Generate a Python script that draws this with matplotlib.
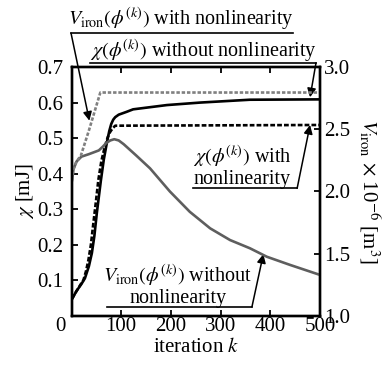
import numpy as np
import matplotlib
matplotlib.use("Agg")
import matplotlib.pyplot as plt
import matplotlib.transforms as mtransforms

plt.rcParams['font.family'] = ['Liberation Serif', 'DejaVu Serif']
plt.rcParams['mathtext.fontset'] = 'stix'
plt.rcParams['font.size'] = 14.5

# chi without nonlinearity (left axis, black solid)
k_chi_lin = [1, 10, 20, 27, 35, 41, 46, 51, 55, 59, 65, 71, 76, 80, 84, 88, 95, 111, 124, 158, 192, 259, 359, 500]
chi_lin = [0.048, 0.07, 0.09, 0.106, 0.14, 0.177, 0.225, 0.29, 0.335, 0.38, 0.44, 0.486, 0.52, 0.54,
           0.552, 0.559, 0.566, 0.574, 0.581, 0.587, 0.593, 0.600, 0.608, 0.609]

# chi with nonlinearity (left axis, black dashed)
k_chi_nl = [1, 10, 18, 24, 29, 34, 39, 44, 49, 54, 60, 67, 73, 78, 83, 88, 500]
chi_nl = [0.048, 0.07, 0.088, 0.101, 0.125, 0.157, 0.2, 0.261, 0.32, 0.382, 0.435, 0.476, 0.503,
          0.518, 0.528, 0.535, 0.537]

# V_iron without nonlinearity (right axis, gray solid)
k_v_lin = [1, 4, 10, 20, 35, 55, 63, 70, 78, 86, 95, 105, 130, 158, 198, 238, 279, 319, 359, 393, 440, 500]
v_lin = [2.09, 2.18, 2.24, 2.28, 2.30, 2.33, 2.36, 2.39, 2.41, 2.42, 2.41, 2.38, 2.29, 2.186, 2.0,
         1.837, 1.704, 1.61, 1.544, 1.476, 1.41, 1.33]

# V_iron with nonlinearity (right axis, gray dashed)
k_v_nl = [1, 4, 10, 19, 35, 58, 500]
v_nl = [2.09, 2.18, 2.24, 2.29, 2.49, 2.795, 2.795]

fig = plt.figure(figsize=(3.84, 3.67), dpi=100)
ax = fig.add_axes([71.5 / 384, 51 / 367, 248.5 / 384, 249 / 367])
ax2 = ax.twinx()

ax.plot(k_chi_lin, chi_lin, color='black', lw=1.9)
ax.plot(k_chi_nl, chi_nl, color='black', lw=1.9, dashes=(1.8, 0.8))
ax2.plot(k_v_lin, v_lin, color='#5e5e5e', lw=1.9)
ax2.plot(k_v_nl, v_nl, color='#808080', lw=1.9, dashes=(1.3, 0.7))

ax.set_xlim(0, 500)
ax.set_ylim(0, 0.7)
ax2.set_ylim(1.0, 3.0)
ax.set_xticks([0, 100, 200, 300, 400, 500])
ax.set_yticks([0.1, 0.2, 0.3, 0.4, 0.5, 0.6, 0.7])
ax.set_yticklabels(['0.1', '0.2', '0.3', '0.4', '0.5', '0.6', '0.7'])
ax2.set_yticks([1.0, 1.5, 2.0, 2.5, 3.0])
ax2.set_yticklabels(['1.0', '1.5', '2.0', '2.5', '3.0'])

for a in (ax, ax2):
    for s in a.spines.values():
        s.set_linewidth(1.7)
ax.tick_params(axis='x', direction='in', top=True, length=4, width=1.3, pad=1, labelsize=15)
ax.tick_params(axis='y', direction='in', length=4, width=1.3, pad=6, labelsize=15)
ax2.tick_params(axis='y', direction='in', length=4, width=1.3, pad=3, labelsize=15)

# shift the "0" x label a bit left like the original
lab0 = ax.get_xticklabels()[0]
lab0.set_transform(lab0.get_transform() + mtransforms.ScaledTranslation(-11 / 100, 0, fig.dpi_scale_trans))

ax.set_xlabel(r'iteration $k$', va='center', fontsize=15)
ax.xaxis.set_label_coords(0.5, -0.125)
ax.set_ylabel(r'$\chi$ [mJ]', va='center', fontsize=15)
ax.yaxis.set_label_coords(-0.187, 0.5)
ax2.set_ylabel(r'$V_{\mathrm{iron}}$ $\times$ 10$^{-6}$ [m$^3$]', rotation=270, va='center', fontsize=15)
ax2.yaxis.set_label_coords(1.2, 0.5)

arrow = dict(arrowstyle='-|>', color='black', lw=1.1, mutation_scale=13, shrinkA=0, shrinkB=0)

def note(text, tx, ty, x1, x2, uy, target):
    ax.text(tx, ty, text, ha='center', va='center', linespacing=1.1, clip_on=False)
    ax.plot([x1, x2], [uy, uy], color='black', lw=1.2, clip_on=False)
    start = (x1, uy) if target[0] < (x1 + x2) / 2 else (x2, uy)
    ax.annotate('', xy=target, xytext=start, arrowprops=arrow, annotation_clip=False)

note(r'$V_{\mathrm{iron}}(\phi^{(k)})$ with nonlinearity', 220, 0.835, -1, 446, 0.7955, (36, 0.549))
note(r'$\chi(\phi^{(k)})$ without nonlinearity', 265, 0.747, 37, 492, 0.712, (480, 0.615))
note('$\\chi(\\phi^{(k)})$ with\nnonlinearity', 343, 0.422, 245, 454, 0.359, (480, 0.537))
note('$V_{\\mathrm{iron}}(\\phi^{(k)})$ without\nnonlinearity', 214, 0.087, 71, 363, 0.0253, (386, 0.174))

fig.savefig('out.png', dpi=100)
